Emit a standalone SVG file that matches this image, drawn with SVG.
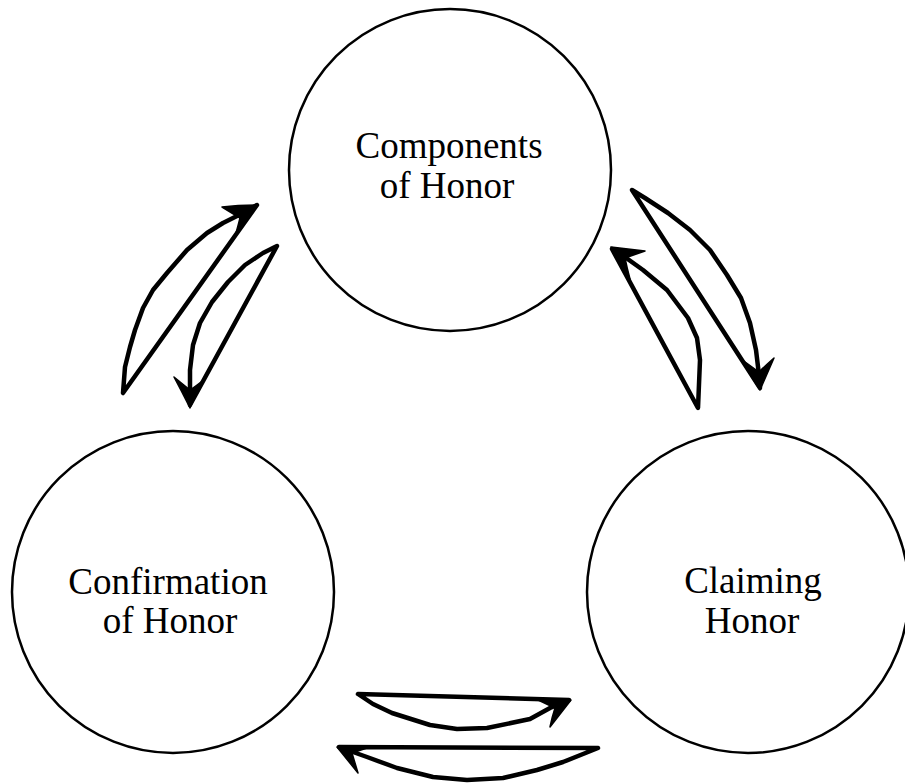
<svg xmlns="http://www.w3.org/2000/svg" width="905" height="784" viewBox="0 0 905 784">
<style>
.node circle{fill:#fff;stroke:#000;stroke-width:2.5}
.node text{font-family:"Liberation Serif","Times New Roman",serif;font-size:37px;fill:#000;text-anchor:middle}
.arr{fill:none;stroke:#000;stroke-width:4.5;stroke-linejoin:round;stroke-linecap:round}
.head{fill:#000;stroke:#000;stroke-width:1.5;stroke-linejoin:round}
</style>
<rect width="905" height="784" fill="#fff"/>
<g id="components" class="node">
<circle cx="450" cy="170" r="161"/>
<text x="449" y="158">Components</text>
<text x="447" y="198">of Honor</text>
</g>
<g id="confirmation" class="node">
<circle cx="173" cy="592" r="161"/>
<text x="168" y="594">Confirmation</text>
<text x="170" y="633">of Honor</text>
</g>
<g id="claiming" class="node">
<circle cx="748" cy="592" r="161"/>
<text x="753" y="593">Claiming</text>
<text x="752" y="633">Honor</text>
</g>
<g id="connectors">
<path class="arr" d="M257,205 L123,393 L125,367 L130,347 L135,330 L143,308 L153,290 L167,273 L187,250 L207,233 L223,223 L243,213 Z"/>
<path class="head" d="M257,205 Q238,205 222,207 L240,218 Q238,226 236,233 Z"/>
<path class="arr" d="M277,246 L190,405 L190,370 L193,345 L200,323 L212,302 L228,282 L245,265 L263,253 Z"/>
<path class="head" d="M190,408 Q182,392 174,377 L190,390 Q196,386 201,382 Z"/>
<path class="arr" d="M632,190 L760,388 L759,375 L756,350 L750,323 L741,298 L727,275 L710,250 L690,230 L668,213 L645,198 Z"/>
<path class="head" d="M760,390 Q750,374 741,359 L759,372 Q766,365 774,358 Z"/>
<path class="arr" d="M698,408 L612,249 L622,255 L643,270 L667,290 L688,318 L697,338 L700,360 Z"/>
<path class="head" d="M611,247 Q628,249 645,251 L625,258 Q627,268 630,279 Z"/>
<path class="arr" d="M358,694 L569,700 L550,708 L530,719 L487,728 L457,729 L430,725 L392,713 L373,704 Z"/>
<path class="head" d="M571,700 Q553,699 536,699 L555,708 Q552,717 550,727 Z"/>
<path class="arr" d="M598,748 L339,747 L367,757 L397,768 L433,777 L467,780 L503,778 L537,770 L563,762 Z"/>
<path class="head" d="M337,747 Q355,746 373,746 L352,753 Q355,763 358,773 Z"/>
</g>
</svg>
